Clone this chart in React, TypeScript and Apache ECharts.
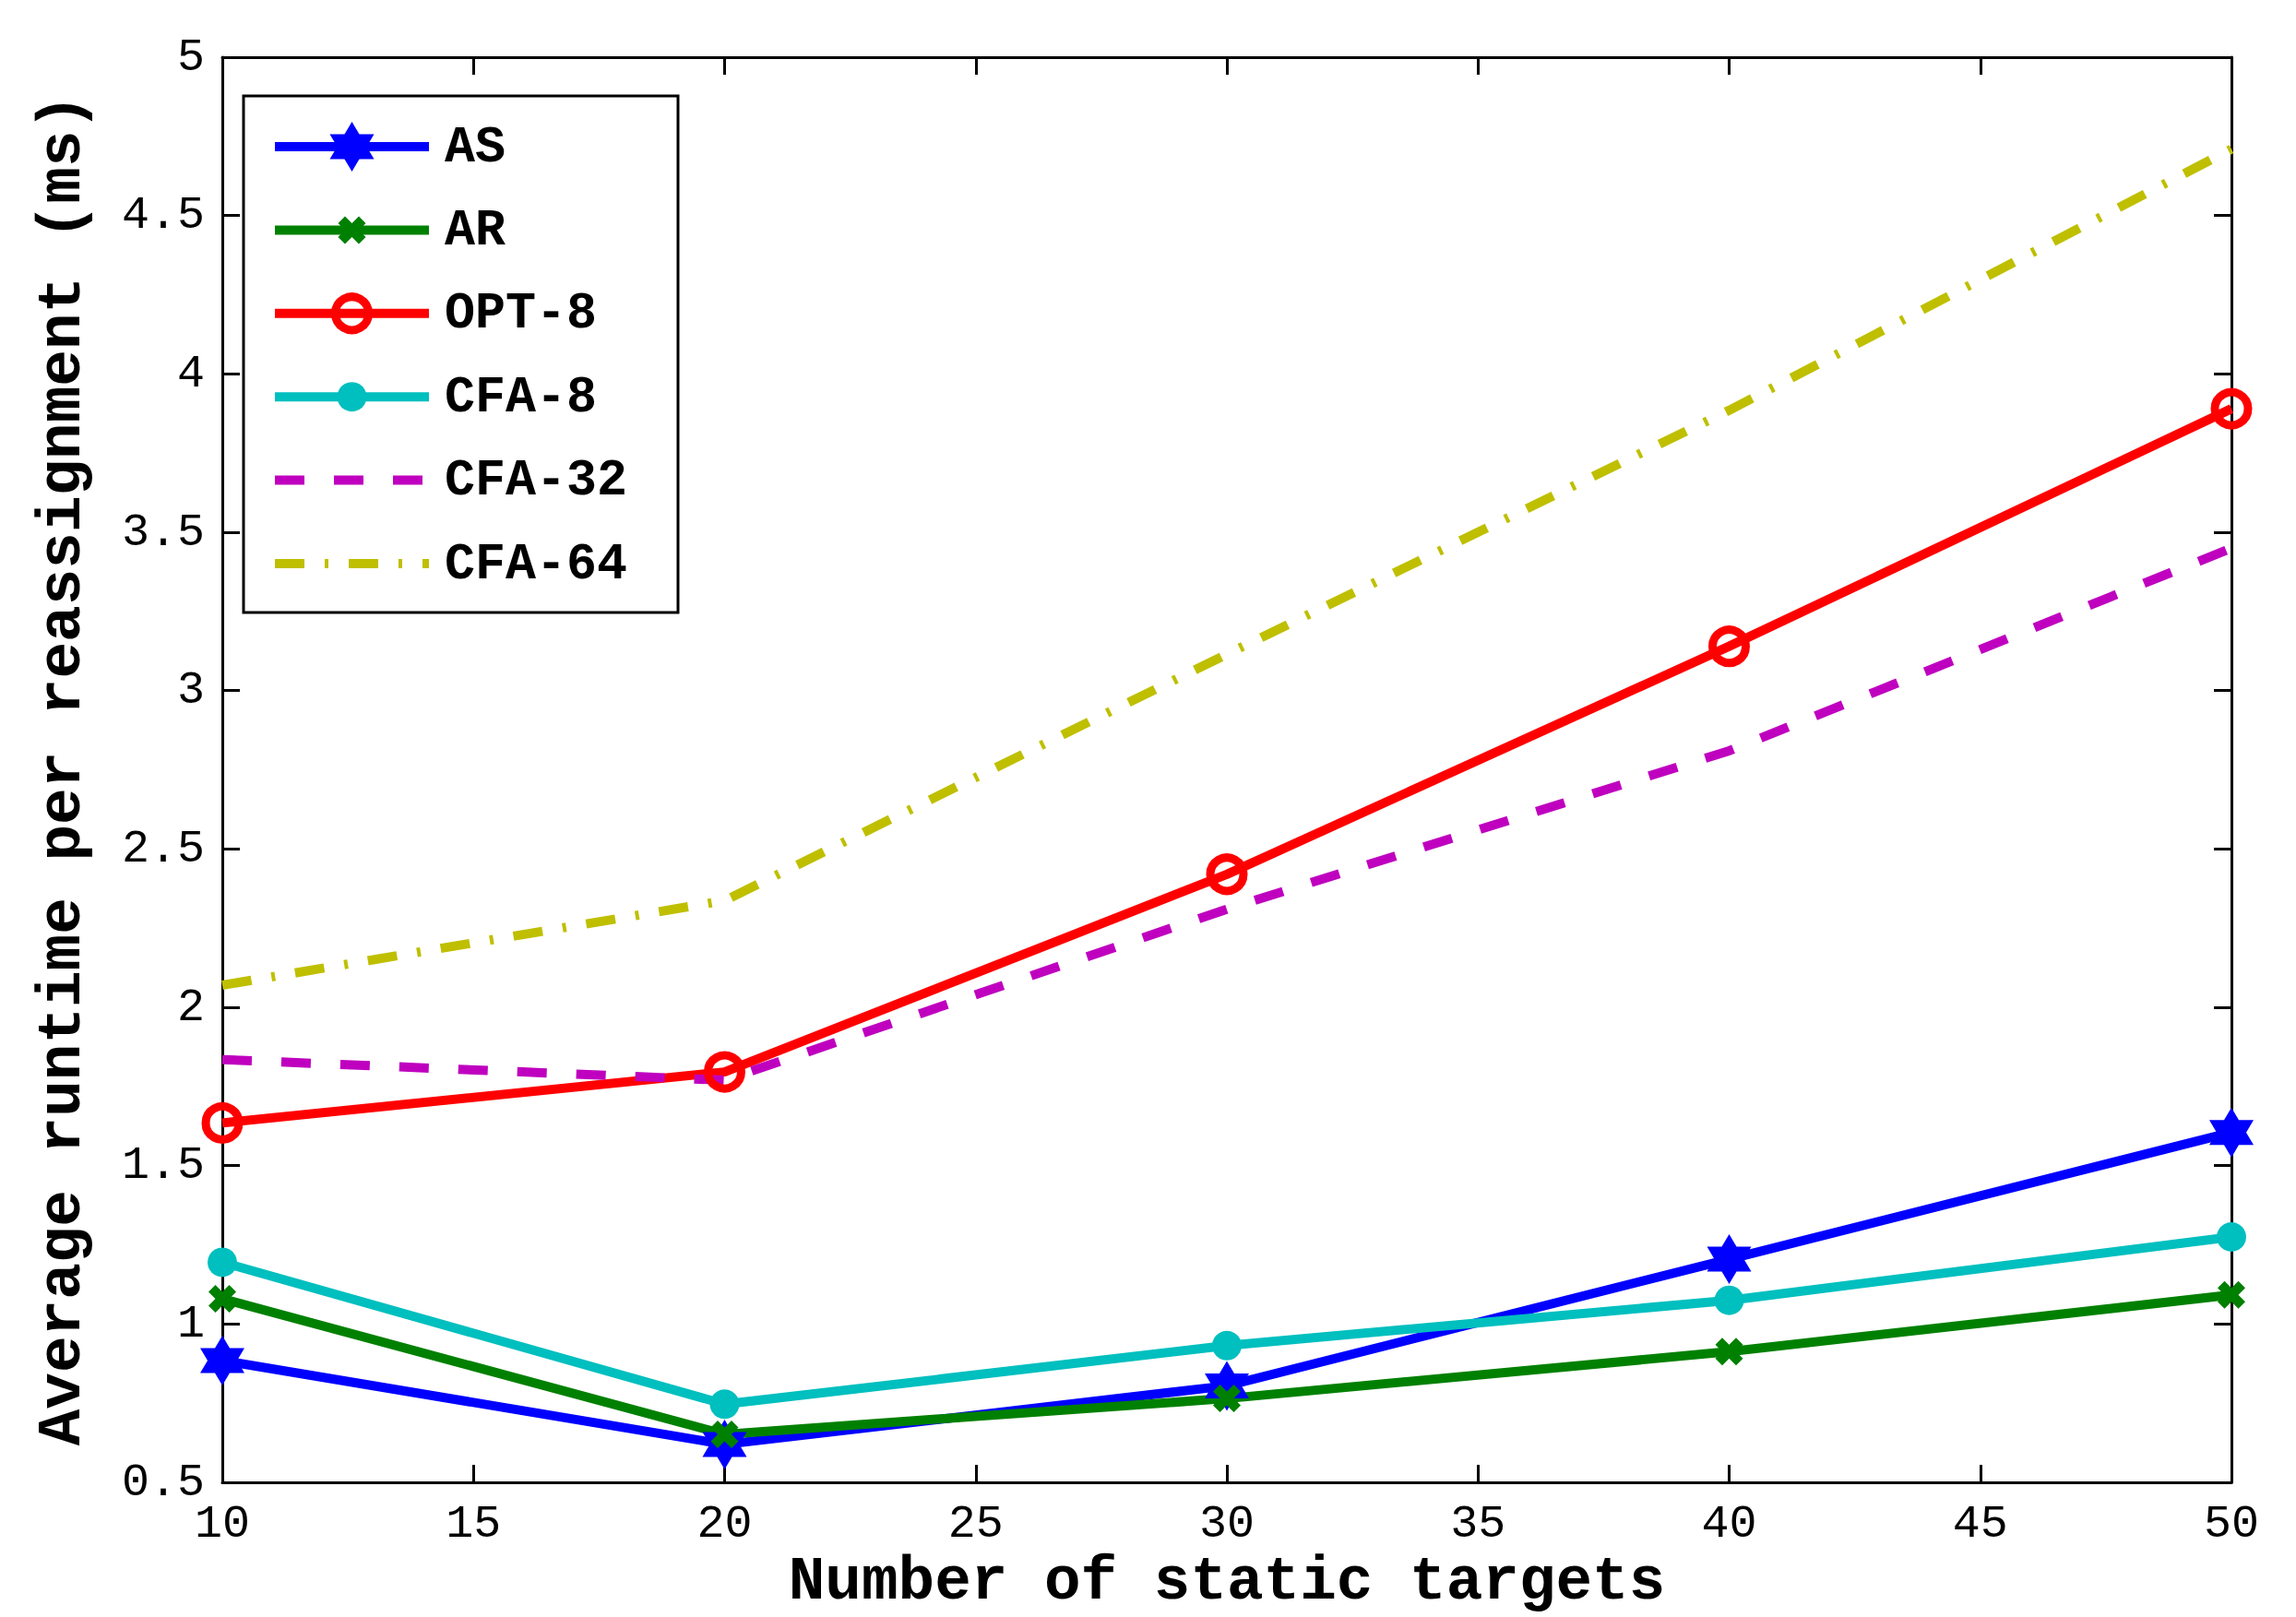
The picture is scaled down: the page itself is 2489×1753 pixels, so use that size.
import React, { useEffect, useRef } from "react";
import * as echarts from "echarts";

// ---- data ----
const xValues = [10, 20, 30, 40, 50];
const asValues = [0.885, 0.62, 0.805, 1.205, 1.605];
const arValues = [1.08, 0.652, 0.765, 0.913, 1.092];
const opt8Values = [1.635, 1.796, 2.42, 3.14, 3.89];
const cfa8Values = [1.195, 0.747, 0.932, 1.075, 1.275];
const cfa32Values = [1.835, 1.77, 2.31, 2.81, 3.45];
const cfa64Values = [2.07, 2.337, 3.115, 3.885, 4.71];

const seriesNames = ["AS", "AR", "OPT-8", "CFA-8", "CFA-32", "CFA-64"];
const xRange = [10, 50];
const xStep = 5;
const yRange = [0.5, 5];
const yStep = 0.5;

const xTitle = "Number of static targets";
const yTitle = "Average runtime per reassignment (ms)";

// ---- styles ----
const COLORS = ["#0000FF", "#008000", "#FF0000", "#00BFBF", "#BF00BF", "#BFBF00"];
const MONO = '"Liberation Mono", "Courier New", monospace';
const LINE_W = 10;
const DASH32 = [32, 32];
const DASHDOT64 = [32, 22, 4, 22];
const HEXAGRAM = "path://M100,0L186.6,150L13.4,150ZM100,200L13.4,50L186.6,50Z";
const XMARK = "path://M25,0L50,25L75,0L100,25L75,50L100,75L75,100L50,75L25,100L0,75L25,50L0,25Z";

function pairs(vals: number[]) {
  return xValues.map((x, i) => [x, vals[i]]);
}

function buildLegend() {
  const boxX = 264, boxY = 104, boxW = 471, boxH = 560;
  const rowY0 = 159, rowStep = 90.4;
  const lx1 = 298, lx2 = 465, mx = 381.5, tx = 482;
  const els: any[] = [
    {
      type: "rect",
      z: 100,
      shape: { x: boxX, y: boxY, width: boxW, height: boxH },
      style: { fill: "#fff", stroke: "#000", lineWidth: 3 },
    },
  ];
  const dashes: any[] = [null, null, null, null, DASH32, DASHDOT64];
  seriesNames.forEach((name, i) => {
    const cy = rowY0 + i * rowStep;
    const c = COLORS[i];
    els.push({
      type: "line",
      z: 101,
      shape: { x1: lx1, y1: cy, x2: lx2, y2: cy },
      style: { stroke: c, lineWidth: LINE_W, lineDash: dashes[i] || null },
    });
    if (i === 0) {
      const hw = 24, hh = 27;
      els.push({
        type: "polygon", z: 102,
        shape: { points: [[mx, cy - hh], [mx + hw, cy + hh / 2], [mx - hw, cy + hh / 2]] },
        style: { fill: c },
      });
      els.push({
        type: "polygon", z: 102,
        shape: { points: [[mx, cy + hh], [mx - hw, cy - hh / 2], [mx + hw, cy - hh / 2]] },
        style: { fill: c },
      });
    } else if (i === 1) {
      const s = 30 / 100;
      const raw = [[25, 0], [50, 25], [75, 0], [100, 25], [75, 50], [100, 75], [75, 100], [50, 75], [25, 100], [0, 75], [25, 50], [0, 25]];
      els.push({
        type: "polygon", z: 102,
        shape: { points: raw.map(([px, py]) => [mx - 15 + px * s, cy - 15 + py * s]) },
        style: { fill: c },
      });
    } else if (i === 2) {
      els.push({
        type: "circle", z: 102,
        shape: { cx: mx, cy, r: 18 },
        style: { fill: "none", stroke: c, lineWidth: 9 },
      });
    } else if (i === 3) {
      els.push({
        type: "circle", z: 102,
        shape: { cx: mx, cy, r: 16 },
        style: { fill: c },
      });
    }
    els.push({
      type: "text",
      z: 102,
      x: tx,
      y: cy + 1,
      style: {
        text: name,
        fontFamily: MONO,
        fontWeight: "bold",
        fontSize: 55,
        fill: "#000",
        verticalAlign: "middle",
        align: "left",
      },
    });
  });
  return els;
}

const axisLineStyle = { color: "#000", width: 3 };

export default function App() {
  const ref = useRef<HTMLDivElement>(null);
  useEffect(() => {
    if (!ref.current) return;
    const chart = echarts.init(ref.current, undefined, { renderer: "svg" });
    const tickCommon = { show: true, inside: true, length: 19, lineStyle: axisLineStyle };
    const option: any = {
      animation: false,
      backgroundColor: "#fff",
      grid: { left: 241, top: 62, width: 2178, height: 1558, containLabel: false },
      xAxis: [
        {
          type: "value",
          position: "bottom",
          min: xRange[0],
          max: xRange[1],
          interval: xStep,
          axisLine: { show: true, onZero: false, lineStyle: axisLineStyle },
          axisTick: tickCommon,
          splitLine: { show: false },
          axisLabel: { fontFamily: MONO, fontSize: 50, color: "#000", margin: 20 },
          name: xTitle,
          nameLocation: "middle",
          nameGap: 73,
          nameTextStyle: { fontFamily: MONO, fontWeight: "bold", fontSize: 66, color: "#000" },
        },
        {
          type: "value",
          position: "top",
          min: xRange[0],
          max: xRange[1],
          interval: xStep,
          axisLine: { show: true, onZero: false, lineStyle: axisLineStyle },
          axisTick: tickCommon,
          splitLine: { show: false },
          axisLabel: { show: false },
        },
      ],
      yAxis: [
        {
          type: "value",
          position: "left",
          min: yRange[0],
          max: yRange[1],
          interval: yStep,
          axisLine: { show: true, onZero: false, lineStyle: axisLineStyle },
          axisTick: tickCommon,
          splitLine: { show: false },
          axisLabel: { fontFamily: MONO, fontSize: 50, color: "#000", margin: 19 },
          name: yTitle,
          nameLocation: "middle",
          nameGap: 140,
          nameTextStyle: { fontFamily: MONO, fontWeight: "bold", fontSize: 66, color: "#000" },
        },
        {
          type: "value",
          position: "right",
          min: yRange[0],
          max: yRange[1],
          interval: yStep,
          axisLine: { show: true, onZero: false, lineStyle: axisLineStyle },
          axisTick: tickCommon,
          splitLine: { show: false },
          axisLabel: { show: false },
        },
      ],
      series: [
        {
          name: seriesNames[0],
          type: "line",
          data: pairs(asValues),
          symbol: HEXAGRAM,
          symbolSize: [48, 54],
          lineStyle: { color: COLORS[0], width: LINE_W },
          itemStyle: { color: COLORS[0] },
        },
        {
          name: seriesNames[1],
          type: "line",
          data: pairs(arValues),
          symbol: XMARK,
          symbolSize: 30,
          lineStyle: { color: COLORS[1], width: LINE_W },
          itemStyle: { color: COLORS[1] },
        },
        {
          name: seriesNames[2],
          type: "line",
          data: pairs(opt8Values),
          symbol: "circle",
          symbolSize: 36,
          lineStyle: { color: COLORS[2], width: LINE_W },
          itemStyle: { color: "none", borderColor: COLORS[2], borderWidth: 9 },
        },
        {
          name: seriesNames[3],
          type: "line",
          data: pairs(cfa8Values),
          symbol: "circle",
          symbolSize: 32,
          lineStyle: { color: COLORS[3], width: LINE_W },
          itemStyle: { color: COLORS[3] },
        },
        {
          name: seriesNames[4],
          type: "line",
          data: pairs(cfa32Values),
          symbol: "none",
          lineStyle: { color: COLORS[4], width: LINE_W, type: DASH32 },
          itemStyle: { color: COLORS[4] },
        },
        {
          name: seriesNames[5],
          type: "line",
          data: pairs(cfa64Values),
          symbol: "none",
          lineStyle: { color: COLORS[5], width: LINE_W, type: DASHDOT64 },
          itemStyle: { color: COLORS[5] },
        },
      ],
      graphic: { elements: buildLegend() },
    };
    chart.setOption(option);
    return () => chart.dispose();
  }, []);
  return (
    <div
      ref={ref}
      style={{ position: "absolute", left: 0, top: 0, width: 2489, height: 1753, background: "#fff" }}
    />
  );
}
